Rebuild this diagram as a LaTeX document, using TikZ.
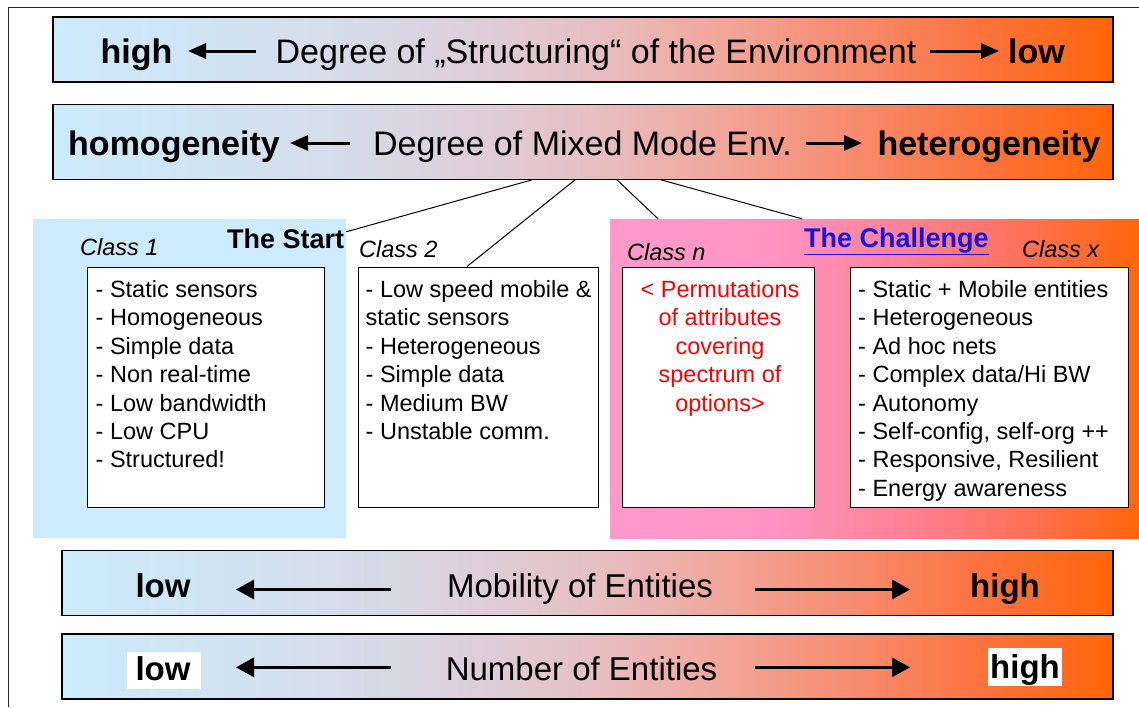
\documentclass[tikz,border=0pt]{standalone}
\usepackage{fontspec}
\setmainfont{Liberation Sans}
\usetikzlibrary{arrows.meta,calc}

\definecolor{bA}{RGB}{204,235,252}
\definecolor{bB}{RGB}{210,225,240}
\definecolor{bC}{RGB}{218,212,225}
\definecolor{bD}{RGB}{230,192,198}
\definecolor{bE}{RGB}{240,168,158}
\definecolor{bF}{RGB}{247,140,112}
\definecolor{bG}{RGB}{252,114,60}
\definecolor{bH}{RGB}{255,102,10}
\definecolor{pA}{RGB}{255,153,204}
\definecolor{pB}{RGB}{255,148,196}
\definecolor{pC}{RGB}{255,130,150}
\definecolor{pD}{RGB}{255,112,90}
\definecolor{pE}{RGB}{255,102,10}
\definecolor{lightregion}{RGB}{204,235,252}
\definecolor{chalblue}{RGB}{20,20,230}
\definecolor{permred}{RGB}{255,0,0}

\pgfdeclarehorizontalshading{barshade}{100bp}{color(0bp)=(bA); color(25bp)=(bA); color(35bp)=(bB); color(42.5bp)=(bC); color(50bp)=(bD); color(56bp)=(bE); color(62.5bp)=(bF); color(69bp)=(bG); color(75bp)=(bH); color(100bp)=(bH)}
\pgfdeclarehorizontalshading{pinkshade}{100bp}{color(0bp)=(pA); color(25bp)=(pA); color(40bp)=(pB); color(52.5bp)=(pC); color(64bp)=(pD); color(75bp)=(pE); color(100bp)=(pE)}

\tikzset{
  bar/.style={draw=black, line width=1.3pt, shade, shading=barshade, inner sep=0pt},
  region/.style={draw=none, inner sep=0pt},
  listbox/.style={draw=black, line width=1pt, fill=white, inner sep=0pt},
  bigtxt/.style={font=\fontsize{34}{40}\selectfont, anchor=base, inner sep=0pt},
  bigbold/.style={font=\fontsize{34}{40}\selectfont\bfseries, anchor=base, inner sep=0pt},
  lowtxt/.style={font=\fontsize{33}{40}\selectfont, anchor=base, inner sep=0pt},
  lowbold/.style={font=\fontsize{33}{40}\selectfont\bfseries, anchor=base, inner sep=0pt},
  item/.style={font=\fontsize{23.5}{28}\selectfont, anchor=base west, inner sep=0pt},
  reditem/.style={font=\fontsize{23.5}{28}\selectfont, anchor=base, inner sep=0pt, text=permred},
  classlbl/.style={font=\fontsize{23.5}{28}\selectfont\itshape, anchor=base west, inner sep=0pt},
  headlbl/.style={font=\fontsize{27}{32}\selectfont\bfseries, anchor=base west, inner sep=0pt},
  arrA/.style={line width=3pt, -{Triangle[length=18pt,width=15pt]}},
  arrB/.style={line width=3.3pt, -{Triangle[length=18pt,width=19pt]}},
  conn/.style={line width=1pt, draw=black}
}

\begin{document}
\begin{tikzpicture}[x=1pt,y=-1pt]
\useasboundingbox (0,0) rectangle (1139,707);
\fill[white] (0,0) rectangle (1139,707);

% frame
\coordinate (frTL) at (8.5,7.5);
\coordinate (frTR) at (1139,7.5);
\coordinate (frBL) at (8.5,707);
\draw[line width=1.3pt, black!85] (frTR) -- (frTL) -- (frBL);

% bars
\node[bar, minimum width=1060pt, minimum height=65pt] (bar1) at (583,49.5) {};
\node[bar, minimum width=1060pt, minimum height=75pt] (bar2) at (583,141.7) {};
\node[bar, minimum width=1051pt, minimum height=65pt] (bar3) at (587.5,583.3) {};
\node[bar, minimum width=1051pt, minimum height=65pt] (bar4) at (587.5,666.5) {};

% bar 1 texts
\node[bigbold] (b1l) at (136.5,63.5) {high};
\node[bigtxt] (b1m) at (596,63.5) {Degree of „Structuring“ of the Environment};
\node[bigbold] (b1r) at (1036.5,63.5) {low};
\coordinate (b1a1s) at (256,51);
\coordinate (b1a1e) at (188,51);
\coordinate (b1a2s) at (930,51);
\coordinate (b1a2e) at (999,51);
\draw[arrA] (b1a1s) -- (b1a1e);
\draw[arrA] (b1a2s) -- (b1a2e);

% bar 2 texts
\node[bigbold] (b2l) at (174,155) {homogeneity};
\node[bigtxt] (b2m) at (582.5,155) {Degree of Mixed Mode Env.};
\node[bigbold] (b2r) at (989,155) {heterogeneity};
\coordinate (b2a1s) at (350,143);
\coordinate (b2a1e) at (290,143);
\coordinate (b2a2s) at (806,143);
\coordinate (b2a2e) at (862,143);
\draw[arrA] (b2a1s) -- (b2a1e);
\draw[arrA] (b2a2s) -- (b2a2e);

% regions
\node[region, fill=lightregion, minimum width=313pt, minimum height=319pt] (blue) at (189.5,378.5) {};
\node[region, shade, shading=pinkshade, minimum width=529pt, minimum height=319pt] (pink) at (874.5,378.5) {};

% connectors
\draw[conn] ([xshift=-51pt]bar2.south) -- ([yshift=-13pt]blue.north east);
\node[listbox, minimum width=240pt, minimum height=240pt] (c2) at (478,387) {};
\draw[conn] ([xshift=-8pt]bar2.south) -- ([xshift=-11pt]c2.north);
\draw[conn] ([xshift=34pt]bar2.south) -- ([xshift=-216.5pt]pink.north);
\draw[conn] ([xshift=78pt]bar2.south) -- ([xshift=-72.5pt]pink.north);

% list boxes
\node[listbox, minimum width=237pt, minimum height=240pt] (c1) at (205.5,387) {};
\node[listbox, minimum width=192pt, minimum height=240pt] (cn) at (718,387) {};
\node[listbox, minimum width=278pt, minimum height=240pt] (cx) at (989,387) {};

% labels
\node[classlbl] (lc1) at (80,255) {Class 1};
\node[headlbl] (lstart) at (227,248) {The Start};
\node[classlbl] (lc2) at (359,257.5) {Class 2};
\node[classlbl] (lcn) at (627,260.5) {Class n};
\node[headlbl, text=chalblue] (lchal) at (804,247.5) {\underline{The Challenge}};
\node[classlbl] (lcx) at (1022,257.5) {Class x};

% class 1 list
\foreach \t [count=\i] in {- Static sensors, - Homogeneous, - Simple data, - Non real-time, - Low bandwidth, - Low CPU, - Structured!}
  \node[item] (c1l\i) at (95.5,{297.3+(\i-1)*28.43}) {\t};

% class 2 list
\foreach \t [count=\i] in {- Low speed mobile \&, static sensors, - Heterogeneous, - Simple data, - Medium BW, - Unstable comm.}
  \node[item] (c2l\i) at (365.5,{297.3+(\i-1)*28.43}) {\t};

% class n text
\foreach \t [count=\i] in {< Permutations, of attributes, covering, spectrum of, options>}
  \node[reditem] (cnl\i) at (720,{297.3+(\i-1)*28.43}) {\t};

% class x list
\foreach \t [count=\i] in {- Static + Mobile entities, - Heterogeneous, - Ad hoc nets, - Complex data/Hi BW, - Autonomy, {- Self-config, self-org ++}, {- Responsive, Resilient}, - Energy awareness}
  \node[item] (cxl\i) at (858,{297.3+(\i-1)*28.43}) {\t};

% bar 3
\node[lowbold] (b3l) at (163,597) {low};
\node[lowtxt] (b3m) at (580,597) {Mobility of Entities};
\node[lowbold] (b3r) at (1005,597) {high};
\coordinate (b3a1s) at (391,589.5);
\coordinate (b3a1e) at (236,589.5);
\coordinate (b3a2s) at (755,589.5);
\coordinate (b3a2e) at (910,589.5);
\draw[arrB] (b3a1s) -- (b3a1e);
\draw[arrB] (b3a2s) -- (b3a2e);

% bar 4
\node[fill=white, minimum width=74pt, minimum height=37pt, inner sep=0pt] (b4lbg) at (164,670.5) {};
\node[fill=white, minimum width=74pt, minimum height=38pt, inner sep=0pt] (b4rbg) at (1025,667) {};
\node[lowbold] (b4l) at (163,680) {low};
\node[lowtxt] (b4m) at (581.5,680) {Number of Entities};
\node[lowbold] (b4r) at (1025,678) {high};
\coordinate (b4a1s) at (391,667.3);
\coordinate (b4a1e) at (236,667.3);
\coordinate (b4a2s) at (755,667.3);
\coordinate (b4a2e) at (910,667.3);
\draw[arrB] (b4a1s) -- (b4a1e);
\draw[arrB] (b4a2s) -- (b4a2e);
\end{tikzpicture}
\end{document}
